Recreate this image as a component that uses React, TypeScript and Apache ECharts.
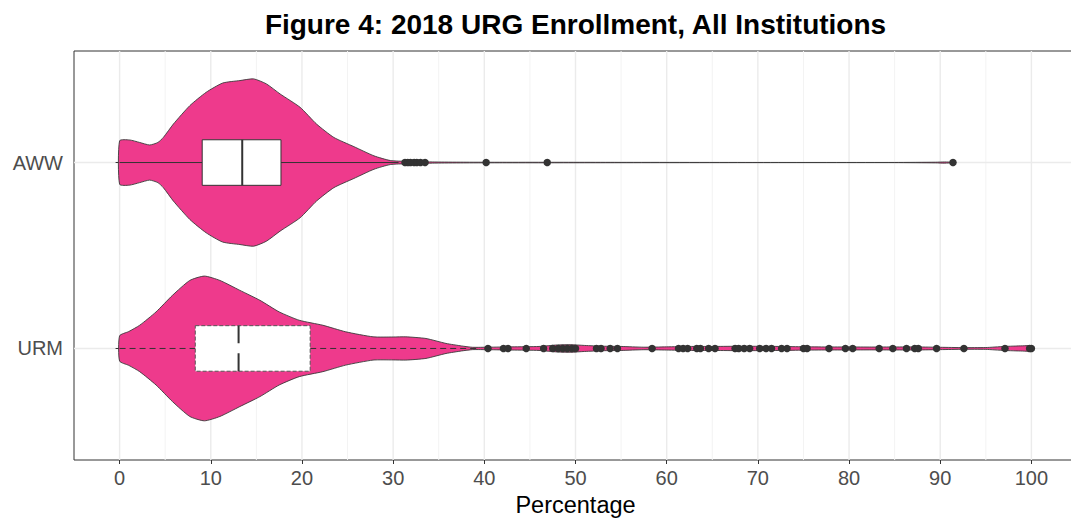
import React, { useEffect, useRef } from 'react';
import * as echarts from 'echarts';

// ---- data ----
const categoryNames = ['URM', 'AWW'];
const categoryPositions = [1, 2];
const xTickValues = [0, 10, 20, 30, 40, 50, 60, 70, 80, 90, 100];
const xGridValues = [0, 5, 10, 15, 20, 25, 30, 35, 40, 45, 50, 55, 60, 65, 70, 75, 80, 85, 90, 95, 100];

// violin outlines: x positions and relative density (half-width)
const awwViolinX = [0, 1.1, 2.2, 3.3, 4.2, 4.8, 5.9, 7.7, 9.5, 11.3, 13.2, 14.7, 16.1, 17.6, 19.8, 21.6, 23.5, 25.7, 27.9, 29.7, 31.5, 33, 35, 38, 42, 47, 55, 70, 85, 89.5, 90.5, 91.4];
const awwViolinDensity = [0.26, 0.27, 0.24, 0.21, 0.24, 0.3, 0.46, 0.68, 0.84, 0.95, 0.98, 1.0, 0.94, 0.82, 0.66, 0.46, 0.3, 0.19, 0.08, 0.024, 0.014, 0.01, 0.006, 0.004, 0.003, 0.003, 0.002, 0.001, 0.001, 0.004, 0.007, 0.003];

const urmViolinX = [0, 1, 2.2, 4, 5.8, 7.7, 9.3, 11, 13.2, 15.4, 17.5, 19.7, 22.3, 24.8, 27.8, 30, 31.4, 33.6, 35.8, 37.5, 38.7, 40.5, 43, 46, 48, 49.5, 51, 53, 55, 57.5, 60, 62.5, 65, 67.5, 70, 72.5, 75, 77.5, 80, 82.5, 85, 87.5, 90, 92.5, 95, 97, 99, 100];
const urmViolinDensity = [0.151, 0.202, 0.277, 0.437, 0.635, 0.813, 0.865, 0.813, 0.694, 0.575, 0.437, 0.337, 0.277, 0.199, 0.139, 0.137, 0.139, 0.119, 0.06, 0.03, 0.014, 0.015, 0.019, 0.024, 0.042, 0.045, 0.036, 0.027, 0.024, 0.015, 0.019, 0.024, 0.024, 0.026, 0.026, 0.024, 0.02, 0.018, 0.018, 0.017, 0.018, 0.018, 0.014, 0.01, 0.011, 0.024, 0.031, 0.03];

// box stats: [lower whisker, Q1, median, Q3, upper whisker]
const urmBox = [0, 8.3, 13.05, 20.9, 39.5];
const awwBox = [0, 9.06, 13.45, 17.7, 30.6];

const awwOutliers = [31.3, 31.6, 31.9, 32.3, 32.6, 33.0, 33.5, 40.2, 46.9, 91.4];
const urmOutliers = [40.4, 42.1, 42.6, 44.6, 46.5, 47.5, 48.1, 48.6, 49.1, 49.6, 50.0, 52.3, 52.8, 53.8, 54.6, 58.4, 61.3, 61.8, 62.3, 63.3, 63.7, 64.6, 65.3, 67.5, 67.9, 68.5, 69.1, 70.2, 70.9, 71.5, 72.6, 73.2, 75.0, 75.4, 77.8, 79.6, 80.4, 83.3, 84.8, 86.3, 87.2, 87.6, 89.6, 92.6, 97.1, 99.8, 100];

// ---- styling constants ----
const VIOLIN_HALF = 0.45;
const BOX_HALF = 0.1225;
const FILL = '#EE3A8C';
const DARK = '#333333';
const FONT = '"Liberation Sans", Arial, Helvetica, sans-serif';

export default function App() {
  const ref = useRef<HTMLDivElement>(null);
  useEffect(() => {
    if (!ref.current) return;
    const chart = echarts.init(ref.current, undefined, { renderer: 'svg' });

    const violins = [
      { pos: categoryPositions[0], x: urmViolinX, d: urmViolinDensity },
      { pos: categoryPositions[1], x: awwViolinX, d: awwViolinDensity },
    ];
    const boxes = [
      { pos: categoryPositions[0], s: urmBox, dashed: true },
      { pos: categoryPositions[1], s: awwBox, dashed: false },
    ];

    const option: any = {
      animation: false,
      title: {
        text: 'Figure 4: 2018 URG Enrollment, All Institutions',
        left: 'center',
        top: 5,
        textStyle: { fontFamily: FONT, fontSize: 28, fontWeight: 'bold', color: '#000' },
      },
      grid: {
        left: 74,
        right: 74,
        top: 51,
        bottom: 59,
        show: true,
        borderColor: DARK,
        borderWidth: 1,
        backgroundColor: 'transparent',
      },
      xAxis: {
        type: 'value',
        min: -5,
        max: 105,
        name: 'Percentage',
        nameLocation: 'middle',
        nameGap: 33,
        nameTextStyle: { fontFamily: FONT, fontSize: 23.5, color: '#000' },
        axisLine: { show: false },
        axisTick: { show: true, length: 4, lineStyle: { color: DARK, width: 1 }, customValues: xTickValues },
        axisLabel: { fontFamily: FONT, fontSize: 20, color: '#4D4D4D', margin: 8, customValues: xTickValues },
        splitLine: { show: false },
      },
      yAxis: {
        type: 'value',
        min: 0.4,
        max: 2.6,
        axisLine: { show: false },
        axisTick: { show: true, length: 4, lineStyle: { color: DARK, width: 1 }, customValues: categoryPositions },
        axisLabel: {
          fontFamily: FONT,
          fontSize: 20,
          color: '#4D4D4D',
          margin: 11,
          customValues: categoryPositions,
          formatter: (v: number) => {
            const i = categoryPositions.indexOf(Math.round(v));
            return i >= 0 ? categoryNames[i] : '';
          },
        },
        splitLine: { show: false },
      },
      series: [
        {
          type: 'custom',
          name: 'xgrid',
          z: 0,
          silent: true,
          data: xGridValues.map((v) => [v, 1.5]),
          renderItem: (params: any, api: any) => {
            const v = api.value(0);
            const a = api.coord([v, 0.4]);
            const b = api.coord([v, 2.6]);
            const major = Math.round(v) % 10 === 0;
            return {
              type: 'line',
              shape: { x1: a[0], y1: a[1], x2: b[0], y2: b[1] },
              style: { stroke: major ? '#EBEBEB' : '#F3F3F3', lineWidth: major ? 1.4 : 1 },
            };
          },
        },
        {
          type: 'custom',
          name: 'ygrid',
          z: 0,
          silent: true,
          data: categoryPositions.map((p) => [50, p]),
          renderItem: (params: any, api: any) => {
            const p = api.value(1);
            const a = api.coord([-5, p]);
            const b = api.coord([105, p]);
            return {
              type: 'line',
              shape: { x1: a[0], y1: a[1], x2: b[0], y2: b[1] },
              style: { stroke: '#EBEBEB', lineWidth: 1.4 },
            };
          },
        },
        {
          type: 'custom',
          name: 'violin',
          z: 2,
          silent: true,
          data: violins.map((v) => [50, v.pos]),
          renderItem: (params: any, api: any) => {
            const v = violins[params.dataIndex];
            const top = v.x.map((x, i) => api.coord([x, v.pos + v.d[i] * VIOLIN_HALF]));
            const bot = v.x.map((x, i) => api.coord([x, v.pos - v.d[i] * VIOLIN_HALF])).reverse();
            return {
              type: 'polygon',
              shape: { points: top.concat(bot), smooth: 0.2 },
              style: { fill: FILL, stroke: '#3a3a3a', lineWidth: 0.9 },
            };
          },
        },
        {
          type: 'custom',
          name: 'box',
          z: 3,
          silent: true,
          data: boxes.map((b) => [b.s[2], b.pos]),
          renderItem: (params: any, api: any) => {
            const b = boxes[params.dataIndex];
            const [lo, q1, med, q3, hi] = b.s;
            const pLo = api.coord([lo, b.pos]);
            const pQ1 = api.coord([q1, b.pos]);
            const pQ3 = api.coord([q3, b.pos]);
            const pHi = api.coord([hi, b.pos]);
            const pMed = api.coord([med, b.pos]);
            const yTop = api.coord([q1, b.pos + BOX_HALF])[1];
            const yBot = api.coord([q1, b.pos - BOX_HALF])[1];
            const whiskerStyle: any = { stroke: DARK, lineWidth: 1, lineDash: b.dashed ? [6, 4] : null };
            return {
              type: 'group',
              children: [
                { type: 'line', shape: { x1: pLo[0], y1: pLo[1], x2: pQ1[0], y2: pQ1[1] }, style: whiskerStyle },
                { type: 'line', shape: { x1: pQ3[0], y1: pQ3[1], x2: pHi[0], y2: pHi[1] }, style: whiskerStyle },
                {
                  type: 'rect',
                  shape: { x: pQ1[0], y: yTop, width: pQ3[0] - pQ1[0], height: yBot - yTop },
                  style: { fill: '#FFFFFF', stroke: b.dashed ? '#555555' : DARK, lineWidth: 1, lineDash: b.dashed ? [4, 2] : null },
                },
                {
                  type: 'line',
                  shape: { x1: pMed[0], y1: yBot, x2: pMed[0], y2: yTop },
                  style: { stroke: DARK, lineWidth: 2, lineDash: b.dashed ? [18, 10] : null },
                },
              ],
            };
          },
        },
        {
          type: 'scatter',
          name: 'outliers',
          z: 4,
          silent: true,
          symbol: 'circle',
          symbolSize: 7.5,
          itemStyle: { color: DARK, opacity: 1 },
          data: [
            ...awwOutliers.map((v) => [v, categoryPositions[1]]),
            ...urmOutliers.map((v) => [v, categoryPositions[0]]),
          ],
        },
      ],
    };
    chart.setOption(option);
    return () => chart.dispose();
  }, []);

  return (
    <div style={{ position: 'fixed', left: 0, top: 0, width: 1071, height: 522, overflow: 'hidden', background: '#fff' }}>
      <div ref={ref} style={{ width: 1151, height: 522 }} />
    </div>
  );
}
